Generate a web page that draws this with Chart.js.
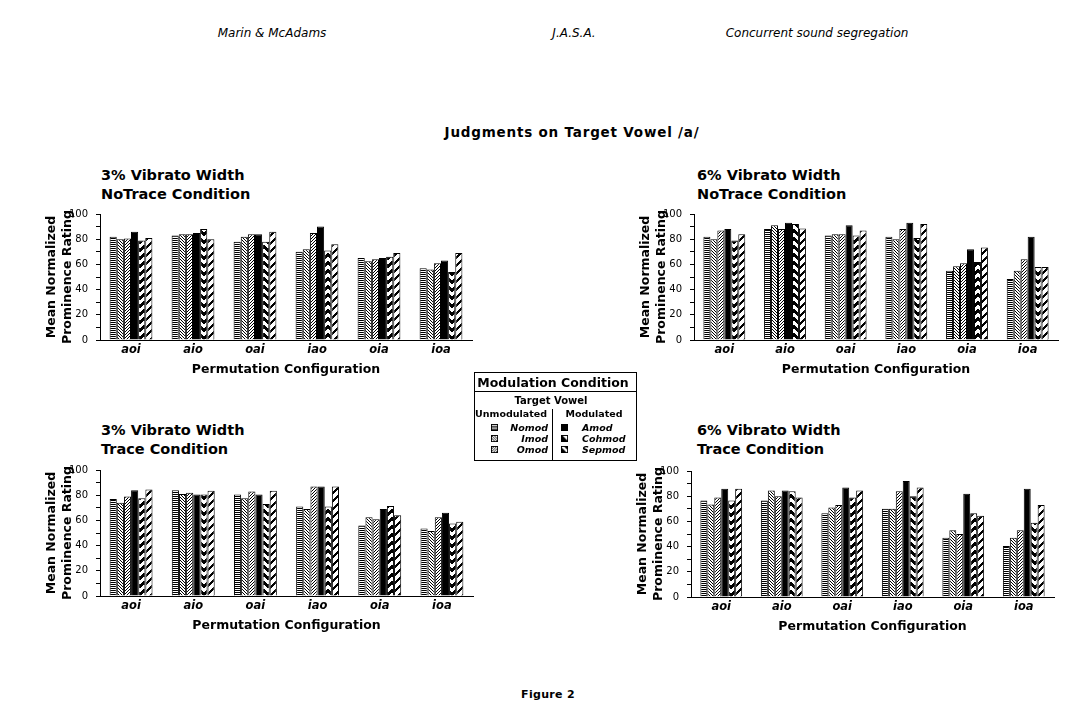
<!DOCTYPE html>
<html><head><meta charset="utf-8">
<script src="https://cdn.jsdelivr.net/npm/chart.js@4"></script>
<style>
html,body{margin:0;padding:0;background:#fff;}
body{width:1069px;height:705px;position:relative;overflow:hidden;font-family:"DejaVu Sans",sans-serif;color:#000;}
.t{position:absolute;white-space:nowrap;line-height:1;}
.c{transform:translate(-50%,-50%);}
.vc{transform:translate(0,-50%);}
.rc{transform:translate(-100%,-50%);}
canvas{position:absolute;}
.hdr{font-style:italic;font-size:12px;font-weight:200;}
.ptitle{position:absolute;white-space:nowrap;font-weight:bold;font-size:14.5px;line-height:19px;}
.lg{font-weight:bold;}
.lgi{font-weight:bold;font-style:italic;font-size:9.5px;}
.sw{position:absolute;width:7px;height:7px;}
.line{position:absolute;background:#000;}
</style></head>
<body>
<div class="t hdr c" style="left:272px;top:33px;">Marin &amp; McAdams</div>
<div class="t hdr c" style="left:574px;top:33px;">J.A.S.A.</div>
<div class="t hdr c" style="left:817px;top:33px;">Concurrent sound segregation</div>
<div class="t c" style="left:572px;top:133px;font-weight:bold;font-size:13.5px;letter-spacing:0.8px;">Judgments on Target Vowel /a/</div>
<div class="t c" style="left:548px;top:694px;font-weight:bold;font-size:11px;letter-spacing:0.3px;">Figure 2</div>

<div class="ptitle" style="left:101px;top:166px;">3% Vibrato Width<br>NoTrace Condition</div>
<div class="ptitle" style="left:697px;top:166px;">6% Vibrato Width<br>NoTrace Condition</div>
<div class="ptitle" style="left:101px;top:421px;">3% Vibrato Width<br>Trace Condition</div>
<div class="ptitle" style="left:697px;top:421px;">6% Vibrato Width<br>Trace Condition</div>

<canvas id="c1" width="440" height="180" style="left:40px;top:200px;"></canvas>
<canvas id="c2" width="432" height="180" style="left:634px;top:200px;"></canvas>
<canvas id="c3" width="441" height="180" style="left:40px;top:456px;"></canvas>
<canvas id="c4" width="431" height="180" style="left:631px;top:457px;"></canvas>

<!-- legend -->
<div style="position:absolute;left:474px;top:372px;width:163px;height:89px;border:1px solid #000;box-sizing:border-box;"></div>
<div class="line" style="left:474px;top:391px;width:163px;height:1px;"></div>
<div class="line" style="left:552px;top:409px;width:1px;height:52px;"></div>
<div class="t c lg" style="left:553px;top:383px;font-size:12.5px;">Modulation Condition</div>
<div class="t c lg" style="left:551px;top:401px;font-size:10px;">Target Vowel</div>
<div class="t c lg" style="left:511px;top:414px;font-size:9.5px;">Unmodulated</div>
<div class="t c lg" style="left:594px;top:414px;font-size:9.5px;">Modulated</div>
<div id="legendItems"></div>

<script>
// ---------------- DATA ----------------
const categories = ['aoi', 'aio', 'oai', 'iao', 'oia', 'ioa'];
const seriesNames = ['Nomod', 'Imod', 'Omod', 'Amod', 'Cohmod', 'Sepmod'];
const yTickValues = [0, 20, 40, 60, 80, 100];

// 3% Vibrato Width, NoTrace Condition
const noTrace3_Nomod  = [82, 83, 78, 70, 65, 57];
const noTrace3_Imod   = [80, 84, 82, 72, 62.5, 56];
const noTrace3_Omod   = [80.5, 84, 84, 85, 64, 61];
const noTrace3_Amod   = [86, 85, 84, 90, 65, 63];
const noTrace3_Cohmod = [79, 88, 78, 71, 66, 54];
const noTrace3_Sepmod = [81, 80, 86, 76, 69, 69];

// 6% Vibrato Width, NoTrace Condition
const noTrace6_Nomod  = [82, 88, 83, 82, 55, 48.5];
const noTrace6_Imod   = [80, 91, 84, 80, 58.5, 55];
const noTrace6_Omod   = [87, 88, 84, 88, 61, 64];
const noTrace6_Amod   = [88, 93, 91, 93, 72, 82];
const noTrace6_Cohmod = [79, 92, 83, 81, 62, 58];
const noTrace6_Sepmod = [84, 88.5, 87, 92, 73.5, 58];

// 3% Vibrato Width, Trace Condition
const trace3_Nomod  = [77, 84, 80.5, 71, 56, 53.5];
const trace3_Imod   = [74, 81, 77.5, 69, 62.5, 51.5];
const trace3_Omod   = [79, 82, 83, 87, 61, 62.5];
const trace3_Amod   = [84, 80.5, 80.5, 87, 69, 66];
const trace3_Cohmod = [77.5, 80.5, 73, 71, 71.5, 57.5];
const trace3_Sepmod = [84.5, 83.5, 83.5, 87, 64, 59];

// 6% Vibrato Width, Trace Condition
const trace6_Nomod  = [76.5, 76.5, 66.5, 70, 47, 40.5];
const trace6_Imod   = [73.5, 84.5, 71, 70, 53, 47];
const trace6_Omod   = [79, 80, 73, 84, 50, 53];
const trace6_Amod   = [86, 84.5, 87, 92, 82, 86];
const trace6_Cohmod = [76.5, 84, 79, 80, 66.5, 59];
const trace6_Sepmod = [86, 79, 84.5, 87, 64.5, 73];

const xTitle = 'Permutation Configuration';
const yTitle = ['Mean Normalized', 'Prominence Rating'];

// ---------------- PATTERNS ----------------
function makeTile(w, h, fn) {
  const c = document.createElement('canvas');
  c.width = w; c.height = h;
  const g = c.getContext('2d');
  const img = g.createImageData(w, h);
  for (let y = 0; y < h; y++) for (let x = 0; x < w; x++) {
    const i = (y * w + x) * 4;
    const v = fn(x, y) ? 0 : 255;
    img.data[i] = img.data[i + 1] = img.data[i + 2] = v;
    img.data[i + 3] = 255;
  }
  g.putImageData(img, 0, 0);
  return c;
}
const tiles = [
  makeTile(2, 2, (x, y) => y % 2 === 0),                       // Nomod: horizontal lines
  makeTile(3, 3, (x, y) => ((x - y) % 3 + 3) % 3 === 0),       // Imod: fine backslash
  makeTile(3, 3, (x, y) => (x + y) % 3 === 0),                 // Omod: fine slash
  makeTile(1, 1, () => true),                                  // Amod: solid
  makeTile(8, 8, (x, y) => { const dx = x < 4 ? 3 - x : x - 4; return ((y + dx) % 8) < 4; }), // Cohmod: chevrons
  makeTile(8, 8, (x, y) => ((x + y) % 8) < 3)                  // Sepmod: thick slash
];

// ---------------- CHARTS ----------------
const panels = [
  { id: 'c1', values: [noTrace3_Nomod, noTrace3_Imod, noTrace3_Omod, noTrace3_Amod, noTrace3_Cohmod, noTrace3_Sepmod] },
  { id: 'c2', values: [noTrace6_Nomod, noTrace6_Imod, noTrace6_Omod, noTrace6_Amod, noTrace6_Cohmod, noTrace6_Sepmod] },
  { id: 'c3', values: [trace3_Nomod, trace3_Imod, trace3_Omod, trace3_Amod, trace3_Cohmod, trace3_Sepmod] },
  { id: 'c4', values: [trace6_Nomod, trace6_Imod, trace6_Omod, trace6_Amod, trace6_Cohmod, trace6_Sepmod] }
];

const FAM = '"DejaVu Sans", sans-serif';
panels.forEach(p => {
  const ctx = document.getElementById(p.id).getContext('2d');
  const pats = tiles.map(t => ctx.createPattern(t, 'repeat'));
  new Chart(ctx, {
    type: 'bar',
    data: {
      labels: categories,
      datasets: seriesNames.map((n, i) => ({
        label: n,
        data: p.values[i],
        backgroundColor: pats[i],
        borderColor: '#000',
        borderWidth: 1,
        borderSkipped: 'bottom',
        categoryPercentage: 0.69,
        barPercentage: 1.0
      }))
    },
    options: {
      responsive: false,
      animation: false,
      events: [],
      layout: { padding: { top: 12, right: 8, left: 0, bottom: 0 } },
      plugins: { legend: { display: false }, tooltip: { enabled: false }, title: { display: false } },
      scales: {
        x: {
          type: 'category',
          offset: true,
          grid: { display: false, drawTicks: false },
          border: { display: true, color: '#000', width: 1 },
          ticks: { color: '#000', padding: 3, autoSkip: false, maxRotation: 0,
                   font: { family: FAM, size: 11.5, style: 'italic', weight: 'bold' } },
          title: { display: true, text: xTitle, color: '#000',
                   font: { family: FAM, size: 12.5, weight: 'bold', lineHeight: '16px' },
                   padding: { top: 0, bottom: 2 } },
          afterFit(s) { s.height = 40; }
        },
        y: {
          min: 0, max: 100,
          grid: { display: true, drawOnChartArea: false, drawTicks: true, tickLength: 4, color: '#000' },
          border: { display: true, color: '#000', width: 1 },
          ticks: { stepSize: 10, autoSkip: false, padding: 8, color: '#000',
                   font: { family: FAM, size: 10 },
                   callback: v => yTickValues.includes(v) ? String(v) : '' },
          title: { display: true, text: yTitle, color: '#000',
                   font: { family: FAM, size: 12.5, weight: 'bold', lineHeight: '16px' },
                   padding: { top: 4, bottom: 0 } },
          afterFit(s) { s.width = 60; }
        }
      }
    }
  });
});

// ---------------- LEGEND ITEMS ----------------
const legendPos = [
  { sx: 491, lx: 548, align: 'right' },
  { sx: 491, lx: 548, align: 'right' },
  { sx: 491, lx: 548, align: 'right' },
  { sx: 561, lx: 582, align: 'left' },
  { sx: 561, lx: 582, align: 'left' },
  { sx: 561, lx: 582, align: 'left' }
];
const rowY = [428, 439, 450];
const holder = document.getElementById('legendItems');
seriesNames.forEach((n, i) => {
  const lp = legendPos[i];
  const y = rowY[i % 3];
  const c = document.createElement('canvas');
  c.width = 8; c.height = 8;
  c.className = 'sw';
  c.style.left = lp.sx + 'px';
  c.style.top = (y - 4) + 'px';
  const g = c.getContext('2d');
  g.fillStyle = '#fff'; g.fillRect(0, 0, 8, 8);
  if (i === 4) {
    g.fillStyle = '#000'; g.fillRect(0, 0, 8, 8);
    g.fillStyle = '#fff'; g.beginPath(); g.moveTo(2, 1); g.lineTo(7, 1); g.lineTo(7, 6); g.closePath(); g.fill();
  } else if (i === 5) {
    g.fillStyle = '#000'; g.beginPath(); g.moveTo(1, 7); g.lineTo(1, 2); g.lineTo(6, 7); g.closePath(); g.fill();
    g.beginPath(); g.moveTo(7, 1); g.lineTo(7, 4); g.lineTo(4, 1); g.closePath(); g.fill();
  } else {
    g.fillStyle = g.createPattern(tiles[i], 'repeat'); g.fillRect(0, 0, 8, 8);
  }
  g.strokeStyle = '#000'; g.lineWidth = 1; g.strokeRect(0.5, 0.5, 7, 7);
  holder.appendChild(c);
  const d = document.createElement('div');
  d.className = 't lgi ' + (lp.align === 'right' ? 'rc' : 'vc');
  d.style.left = lp.lx + 'px';
  d.style.top = y + 'px';
  d.textContent = n;
  holder.appendChild(d);
});
</script>
</body></html>
